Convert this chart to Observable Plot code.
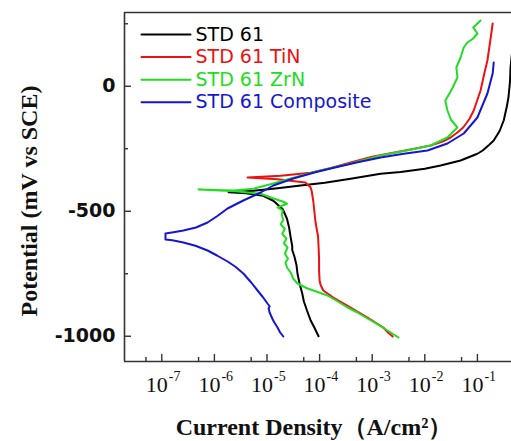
<!DOCTYPE html>
<html><head><meta charset="utf-8">
<script src="https://cdn.jsdelivr.net/npm/d3@7"></script>
<script src="https://cdn.jsdelivr.net/npm/@observablehq/plot@0.6"></script>
<style>body{margin:0;background:#fff;overflow:hidden}</style>
</head><body><div id="chart"></div>
<script>
// ---- data (log10 of current density in A/cm², potential in mV vs SCE) ----
const seriesNames = ["STD 61", "STD 61 TiN", "STD 61 ZrN", "STD 61 Composite"];
const seriesColors = ["#000000", "#ee1111", "#22dd22", "#1616d2"];

const std61LogI = [-4.02,-4.10,-4.17,-4.24,-4.30,-4.33,-4.38,-4.42,-4.44,-4.48,-4.52,-4.52,-4.55,-4.58,-4.62,-4.70,-4.88,-5.07,-5.40,-5.73,
  -5.26,-4.80,-4.36,-3.90,-3.41,-2.84,-2.46,-2.00,-1.70,-1.32,-1.00,-0.90,-0.78,-0.69,-0.58,-0.50,-0.44,-0.41,-0.38,-0.37,-0.33];
const std61E = [-1000,-965,-937,-897,-860,-829,-790,-750,-715,-680,-655,-640,-605,-565,-530,-492,-458,-438,-428,-424,
  -418,-408,-397,-386,-370,-350,-343,-330,-317,-297,-270,-257,-235,-217,-180,-137,-80,-45,20,75,160];

const tinLogI = [-2.61,-2.70,-2.79,-3.09,-3.41,-3.74,-3.93,-3.98,-4.00,-4.01,-4.01,-4.02,-4.03,-4.05,-4.08,-4.10,-4.12,-4.15,-4.17,-4.27,-4.80,-5.37,
  -4.74,-4.17,-3.80,-3.41,-3.00,-2.65,-2.20,-1.89,-1.65,-1.51,-1.38,-1.27,-1.15,-1.07,-0.94,-0.87,-0.81,-0.75,-0.71];
const tinE = [-1001,-985,-965,-925,-885,-845,-817,-795,-777,-737,-690,-640,-600,-577,-540,-500,-460,-420,-405,-385,-372,-365,
  -358,-346,-328,-305,-282,-268,-250,-237,-220,-205,-185,-165,-130,-97,-17,50,103,190,251];

const zrnLogI = [-2.50,-2.71,-2.90,-3.09,-3.28,-3.47,-3.66,-3.85,-4.05,-4.23,-4.42,-4.50,-4.55,-4.62,-4.65,-4.60,-4.66,-4.61,-4.68,-4.63,-4.71,-4.66,-4.74,-4.69,-4.72,-4.70,-4.80,-4.62,-4.69,-4.93,-5.12,-5.60,-6.30,
  -5.63,-5.26,-4.90,-4.55,-3.98,-3.41,-2.84,-2.30,-1.89,-1.57,-1.38,-1.50,-1.57,-1.61,-1.52,-1.47,-1.38,-1.40,-1.32,-1.26,-1.19,-1.08,-1.00,-1.08,-0.94];
const zrnE = [-1005,-977,-952,-929,-905,-885,-860,-837,-822,-809,-789,-770,-745,-725,-705,-690,-670,-645,-628,-610,-590,-570,-552,-535,-515,-497,-485,-470,-462,-445,-430,-420,-413,
  -417,-410,-390,-369,-337,-309,-277,-255,-237,-205,-165,-135,-97,-57,-25,-5,35,75,115,155,175,191,211,235,263];

const compLogI = [-4.69,-4.75,-4.80,-4.86,-4.90,-4.95,-4.97,-4.95,-4.99,-5.08,-5.18,-5.30,-5.45,-5.60,-5.75,-5.95,-6.13,-6.36,-6.59,-6.80,-6.93,
  -6.93,-6.75,-6.59,-6.35,-6.13,-5.95,-5.75,-5.45,-5.12,-4.88,-4.50,-4.10,-3.79,-3.30,-2.84,-2.40,-1.95,-1.57,-1.26,-1.00,-0.81,-0.71,-0.69];
const compE = [-1001,-985,-965,-945,-929,-905,-889,-880,-869,-843,-817,-785,-749,-722,-701,-677,-657,-638,-625,-616,-613,
  -589,-583,-577,-565,-545,-520,-489,-457,-425,-397,-369,-345,-329,-305,-285,-270,-257,-229,-189,-125,-29,51,95];

const xMajorTicks = [1e-7, 1e-6, 1e-5, 1e-4, 1e-3, 1e-2, 1e-1];
const xTickExponents = ["-7", "-6", "-5", "-4", "-3", "-2", "-1"];
const xMinorTicks = [5e-8, 5e-7, 5e-6, 5e-5, 5e-4, 5e-3, 5e-2];
const yMajorTicks = [-1000, -500, 0];
const yMinorTicks = [-750, -250, 250];
const xTitle = "Current Density（A/cm²）";
const yTitle = "Potential (mV vs SCE)";

// ---- table ----
const allSeries = [[std61LogI, std61E], [tinLogI, tinE], [zrnLogI, zrnE], [compLogI, compE]];
const rows = [];
allSeries.forEach(([li, e], k) => li.forEach((v, i) => rows.push({series: seriesNames[k], current: Math.pow(10, v), potential: e[i]})));

const xDomain = [Math.pow(10, -7.709), Math.pow(10, -0.352)];
const yDomain = [-1101, 295];
const axisColor = "#333";
const legendLine = {draw(ctx, l) { ctx.moveTo(0, 0); ctx.lineTo(0, -l); }};

const legendMarks = seriesNames.flatMap((name, k) => [
  Plot.vector([0], {frameAnchor: "top-left", dx: 17, dy: 22 + k * 22.6, length: 49, rotate: 90, anchor: "start",
    shape: legendLine, stroke: seriesColors[k], strokeWidth: 2}),
  Plot.text([name], {frameAnchor: "top-left", dx: 71, dy: 22 + k * 22.6, textAnchor: "start", lineAnchor: "middle",
    fill: seriesColors[k], fontSize: 19, fontFamily: "DejaVu Sans"})
]);

const chart = Plot.plot({
  width: 511, height: 441,
  marginLeft: 124, marginRight: 0, marginTop: 12, marginBottom: 80,
  style: {background: "white", fontFamily: "DejaVu Sans"},
  x: {type: "log", domain: xDomain},
  y: {domain: yDomain},
  color: {domain: seriesNames, range: seriesColors},
  marks: [
    Plot.line(rows, {x: "current", y: "potential", z: "series", stroke: "series", strokeWidth: 2, clip: true}),
    Plot.ruleX([xDomain[0]], {stroke: axisColor, strokeWidth: 1.6}),
    Plot.ruleY(yDomain, {stroke: axisColor, strokeWidth: 1.6}),
    Plot.axisX({ticks: xMajorTicks, tickSize: -7, tickFormat: () => "", label: null, stroke: axisColor, strokeWidth: 1.4}),
    Plot.axisX({ticks: xMinorTicks, tickSize: -4, tickFormat: () => "", label: null, stroke: axisColor, strokeWidth: 1.4}),
    Plot.axisY({ticks: yMajorTicks, tickSize: -7, tickPadding: 16, tickFormat: d => `${d}`, label: null,
      fontSize: 19, fontWeight: "bold", fontFamily: "DejaVu Sans", fill: "#111", stroke: axisColor, strokeWidth: 1.4}),
    Plot.axisY({ticks: yMinorTicks, tickSize: -4, tickFormat: () => "", label: null, stroke: axisColor, strokeWidth: 1.4}),
    Plot.text(xMajorTicks, {x: d => d, text: () => "10", frameAnchor: "bottom", dy: 23, dx: -5, lineAnchor: "middle",
      fontSize: 22, fontFamily: "Liberation Serif", fill: "#111"}),
    Plot.text(xMajorTicks, {x: d => d, text: (d, i) => xTickExponents[i], frameAnchor: "bottom", dy: 15, dx: 7,
      textAnchor: "start", lineAnchor: "middle", fontSize: 14, fontFamily: "Liberation Serif", fill: "#111"}),
    ...legendMarks,
    Plot.text([xTitle], {frameAnchor: "bottom", dy: 66, dx: -4, textAnchor: "middle", lineAnchor: "middle", fontSize: 24, fontWeight: "bold",
      fontFamily: "Liberation Serif", fill: "#111"}),
    Plot.text([yTitle], {frameAnchor: "left", dx: -95, dy: 14, rotate: -90, textAnchor: "middle", lineAnchor: "middle", fontSize: 24, fontWeight: "bold",
      fontFamily: "Liberation Serif", fill: "#111"})
  ]
});
document.getElementById("chart").appendChild(chart);
</script>
</body></html>
